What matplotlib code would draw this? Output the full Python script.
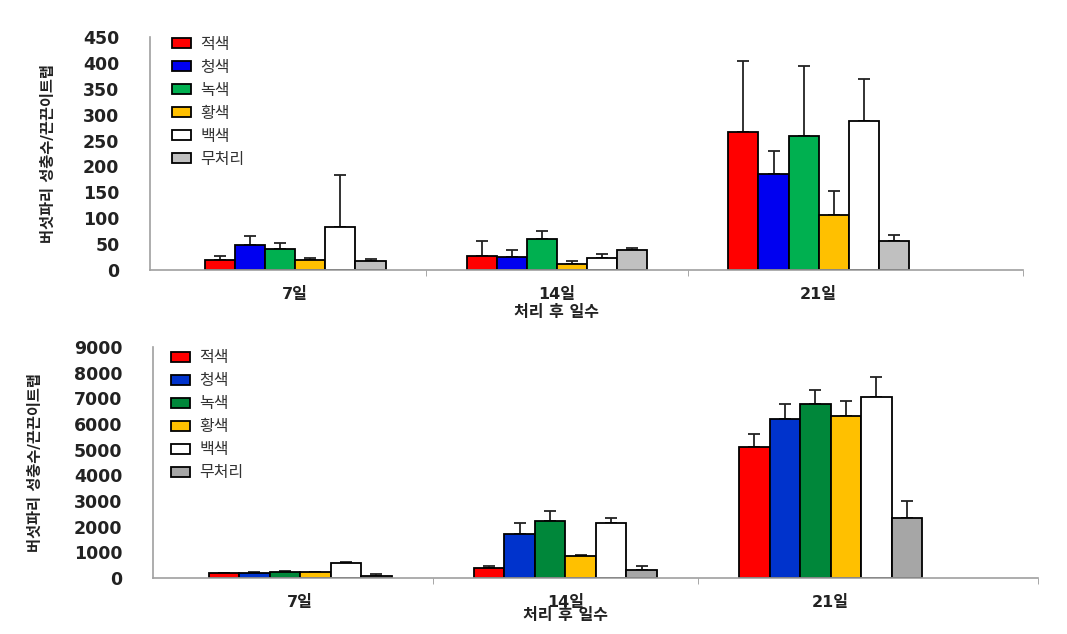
import numpy as np
import matplotlib
matplotlib.use('Agg')
import matplotlib.pyplot as plt

plt.rcParams['font.family'] = ['DejaVu Sans', 'Noto Sans CJK KR']

# 범례 / 카테고리
treatments = ['적색', '청색', '녹색', '황색', '백색', '무처리']
days = ['7일', '14일', '21일']
xlabel = '처리 후 일수'
ylabel = '버섯파리 성충수/끈끈이트랩'

# 위 패널 (평균, 오차)
top_mean = {
    '적색': [20, 28, 266], '청색': [48, 26, 186], '녹색': [40, 59, 258],
    '황색': [19, 12, 106], '백색': [83, 23, 288], '무처리': [17, 39, 57],
}
top_err = {
    '적색': [8, 29, 137], '청색': [17, 12, 43], '녹색': [13, 17, 137],
    '황색': [4, 5, 47], '백색': [101, 7, 81], '무처리': [5, 3, 11],
}
# 아래 패널
bot_mean = {
    '적색': [195, 377, 5117], '청색': [208, 1714, 6182], '녹색': [234, 2221, 6766],
    '황색': [221, 844, 6312], '백색': [584, 2143, 7052], '무처리': [91, 299, 2351],
}
bot_err = {
    '적색': [10, 103, 480], '청색': [10, 429, 584], '녹색': [50, 376, 559],
    '황색': [30, 40, 597], '백색': [25, 208, 779], '무처리': [78, 156, 636],
}

top_cols = ['#FF0000', '#0000F0', '#00B050', '#FFC000', '#FFFFFF', '#C0C0C0']
bot_cols = ['#FF0000', '#0033CC', '#00873A', '#FFC000', '#FFFFFF', '#A6A6A6']

fig = plt.figure(figsize=(10.67, 6.34), dpi=100)
ax1 = fig.add_axes([0.1406, 0.5741, 0.818, 0.3675])
ax2 = fig.add_axes([0.1434, 0.0883, 0.829, 0.3644])

panels = [
    (ax1, top_mean, top_err, top_cols, 450, 50, (0.025, 1.0), -0.108, -0.148),
    (ax2, bot_mean, bot_err, bot_cols, 9000, 1000, (0.02, 0.985), -0.124, -0.13),
]

x = np.arange(len(days))
w = 0.115
xmin, xmax = -0.555, 2.78

for ax, means, errs, cols, ymax, ystep, lpos, ylx, xly in panels:
    for i, (t, c) in enumerate(zip(treatments, cols)):
        pos = x + (i - 2.5) * w
        ax.bar(pos, means[t], w, color=c, edgecolor='black', linewidth=1.3,
               label=t, zorder=2)
        ax.errorbar(pos, means[t], yerr=[np.zeros(len(days)), errs[t]],
                    fmt='none', ecolor='#222222', elinewidth=1.3, capsize=4.5,
                    capthick=1.3, zorder=1)
    ax.set_xlim(xmin, xmax)
    ax.set_ylim(0, ymax)
    ax.set_yticks(np.arange(0, ymax + 1, ystep))
    ax.set_xticks(x)
    ax.set_xticklabels(days, fontsize=11.5, fontweight='bold', color='#222222')
    ax.set_xticks([0.5, 1.5, xmax], minor=True)
    ax.tick_params(axis='x', which='major', length=0, pad=12)
    ax.tick_params(axis='x', which='minor', length=4, color='#999999', direction='out')
    ax.tick_params(axis='y', length=0, pad=22, labelsize=12.5, labelcolor='#222222')
    for lb in ax.get_yticklabels():
        lb.set_fontweight('bold')
    for s in ['top', 'right']:
        ax.spines[s].set_visible(False)
    for s in ['left', 'bottom']:
        ax.spines[s].set_color('#A0A0A0')
        ax.spines[s].set_linewidth(1.2)
    ax.set_ylabel(ylabel, fontsize=11, fontweight='bold', color='#222222')
    ax.yaxis.set_label_coords(ylx, 0.5)
    ax.set_xlabel(xlabel, fontsize=11.5, fontweight='bold', color='#222222')
    ax.xaxis.set_label_coords((1 - xmin) / (xmax - xmin), xly)
    leg = ax.legend(loc='upper left', bbox_to_anchor=lpos, frameon=False,
                    fontsize=11.5, handlelength=1.2, handleheight=0.6,
                    handletextpad=0.6, labelspacing=0.5, borderpad=0,
                    borderaxespad=0)
    for txt in leg.get_texts():
        txt.set_color('#333333')

fig.savefig('out.png', dpi=100)
